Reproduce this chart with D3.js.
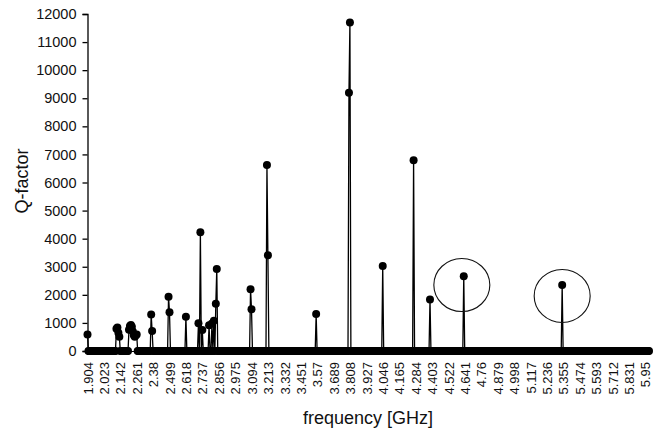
<!DOCTYPE html>
<html>
<head>
<meta charset="utf-8">
<script src="https://cdn.jsdelivr.net/npm/d3@7"></script>
<style>
  body { margin: 0; background: #fff; }
  svg { display: block; }
</style>
</head>
<body>
<script>
// frequency grid (GHz): 1.904 .. 5.978, 7 MHz step
const firstFreq = 1.904;
const freqStep = 0.007;
const nFreq = 583;

const tickLabels = ["1.904", "2.023", "2.142", "2.261", "2.38", "2.499", "2.618", "2.737",
  "2.856", "2.975", "3.094", "3.213", "3.332", "3.451", "3.57", "3.689", "3.808", "3.927",
  "4.046", "4.165", "4.284", "4.403", "4.522", "4.641", "4.76", "4.879", "4.998", "5.117",
  "5.236", "5.355", "5.474", "5.593", "5.712", "5.831", "5.95"];

const yTicks = [0, 1000, 2000, 3000, 4000, 5000, 6000, 7000, 8000, 9000, 10000, 11000, 12000];

// non-zero Q values, everything else on the grid is 0
const peakFreqs = [1.904, 2.114, 2.121, 2.128, 2.135, 2.205, 2.212, 2.219, 2.226, 2.233,
  2.240, 2.247, 2.254, 2.261, 2.366, 2.373, 2.492, 2.499, 2.618, 2.709, 2.723, 2.737,
  2.786, 2.807, 2.821, 2.835, 2.842, 3.087, 3.094, 3.206, 3.213, 3.563, 3.801, 3.808,
  4.046, 4.270, 4.389, 4.634, 5.348];
const peakQ = [590, 790, 840, 650, 510, 760, 890, 925, 860, 690,
  560, 510, 560, 590, 1300, 710, 1930, 1380, 1220, 990, 4230, 750,
  920, 980, 1080, 1680, 2920, 2200, 1490, 6620, 3410, 1320, 9200, 11700,
  3030, 6790, 1830, 2660, 2350];

// highlighted modes (circled)
const circledFreqs = [4.620, 5.348];
const circledQ = [2350, 1960];

const fmt = v => String(+v.toFixed(3));
const categories = d3.range(nFreq).map(i => fmt(firstFreq + i * freqStep));
const qByCat = new Map(peakFreqs.map((f, i) => [fmt(f), peakQ[i]]));
const data = categories.map(c => ({ f: c, q: qByCat.get(c) || 0 }));

const W = 664, H = 431;
const svg = d3.select("body").append("svg")
  .attr("width", W).attr("height", H)
  .attr("viewBox", [0, 0, W, H])
  .style("font-family", "Liberation Sans, Arial, sans-serif");

const x = d3.scalePoint().domain(categories).range([87.5, 649]);
const y = d3.scaleLinear().domain([0, 12000]).range([351, 14]);

// y axis
const yAxis = svg.append("g")
  .attr("transform", "translate(87.5,0)")
  .call(d3.axisLeft(y).tickValues(yTicks).tickSize(5).tickPadding(6).tickFormat(d3.format("d")));
yAxis.select(".domain").attr("stroke", "#000").attr("stroke-width", 1.3);
yAxis.selectAll(".tick line").attr("stroke", "#000").attr("stroke-width", 1.3);
yAxis.selectAll(".tick text").attr("font-size", 14.5).attr("fill", "#111");

// x axis
const xAxis = svg.append("g")
  .attr("transform", "translate(0,351)")
  .call(d3.axisBottom(x).tickValues(tickLabels).tickSize(4).tickFormat(d => d));
xAxis.select(".domain").attr("stroke", "#000");
xAxis.selectAll(".tick line").attr("stroke", "#000");
xAxis.selectAll(".tick text")
  .attr("font-size", 13)
  .attr("fill", "#111")
  .attr("text-anchor", "end")
  .attr("transform", "rotate(-90)")
  .attr("x", -11)
  .attr("y", 0)
  .attr("dy", "0.36em");

// line
const line = d3.line().x(d => x(d.f)).y(d => y(d.q));
svg.append("path")
  .datum(data)
  .attr("d", line)
  .attr("fill", "none")
  .attr("stroke", "#000")
  .attr("stroke-width", 1.3)
  .attr("stroke-linejoin", "miter")
  .attr("stroke-miterlimit", 10);

// markers
svg.append("g")
  .selectAll("circle")
  .data(data)
  .join("circle")
  .attr("cx", d => x(d.f))
  .attr("cy", d => y(d.q))
  .attr("r", 4)
  .attr("fill", "#000");

// circled modes
const xc = d3.scaleLinear().domain([firstFreq, firstFreq + (nFreq - 1) * freqStep]).range(x.range());
svg.append("g")
  .selectAll("ellipse")
  .data(circledFreqs)
  .join("ellipse")
  .attr("cx", d => xc(d))
  .attr("cy", (d, i) => y(circledQ[i]))
  .attr("rx", 28)
  .attr("ry", 26.5)
  .attr("fill", "none")
  .attr("stroke", "#111")
  .attr("stroke-width", 1.1);

// axis titles
svg.append("text")
  .attr("transform", "translate(28,181) rotate(-90)")
  .attr("text-anchor", "middle")
  .attr("font-size", 18)
  .attr("fill", "#111")
  .text("Q-factor");

svg.append("text")
  .attr("x", 368)
  .attr("y", 424)
  .attr("text-anchor", "middle")
  .attr("font-size", 18)
  .attr("fill", "#111")
  .text("frequency [GHz]");
</script>
</body>
</html>
